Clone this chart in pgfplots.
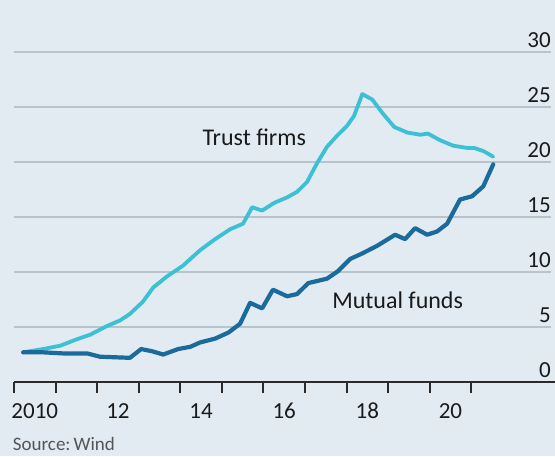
\documentclass[border=0pt]{standalone}
\usepackage{fontspec}
\setmainfont{Carlito}
\usepackage{pgfplots}
\pgfplotsset{compat=1.18}

\definecolor{bg}{HTML}{E1EBF1}
\definecolor{gridc}{HTML}{B8C4CC}
\definecolor{trust}{HTML}{3DBFD4}
\definecolor{mutual}{HTML}{1B6A9C}
\definecolor{axisdark}{HTML}{2A2A2A}
\definecolor{txt}{HTML}{1A1A1A}
\definecolor{srcgray}{HTML}{555555}

% Trust-firm assets, yuan trn
\pgfplotstableread{
x y
2010.22 2.7
2010.70 3.0
2011.11 3.3
2011.52 3.9
2011.83 4.3
2012.24 5.1
2012.55 5.6
2012.79 6.2
2013.10 7.3
2013.35 8.6
2013.68 9.6
2014.07 10.6
2014.48 12.0
2014.84 13.0
2015.20 13.9
2015.51 14.4
2015.73 15.9
2015.97 15.6
2016.26 16.3
2016.57 16.8
2016.81 17.3
2017.05 18.2
2017.29 19.9
2017.53 21.4
2017.77 22.4
2018.01 23.3
2018.18 24.2
2018.38 26.2
2018.62 25.7
2018.88 24.4
2019.15 23.2
2019.46 22.7
2019.77 22.5
2019.96 22.6
2020.25 22.0
2020.57 21.5
2020.90 21.3
2021.07 21.3
2021.30 21.0
2021.53 20.5
}\trustdata

% Mutual-fund assets, yuan trn
\pgfplotstableread{
x y
2010.22 2.7
2010.70 2.7
2011.18 2.6
2011.76 2.6
2012.07 2.3
2012.79 2.2
2013.06 3.0
2013.32 2.8
2013.59 2.5
2013.95 3.0
2014.24 3.2
2014.48 3.6
2014.84 3.95
2015.16 4.5
2015.44 5.3
2015.68 7.2
2015.97 6.7
2016.23 8.4
2016.57 7.8
2016.81 8.0
2017.08 9.0
2017.53 9.4
2017.80 10.1
2018.09 11.2
2018.38 11.7
2018.74 12.4
2019.17 13.4
2019.41 13.0
2019.65 14.0
2019.94 13.4
2020.18 13.7
2020.42 14.4
2020.73 16.6
2021.02 16.9
2021.29 17.8
2021.53 19.8
}\mutualdata

\pgfplotsset{
  base/.style={
    at={(14pt,74pt)}, anchor=south west,
    scale only axis, width=537pt, height=329.7pt,
    xmin=2010, xmax=2022.92, ymin=0, ymax=30,
    axis line style={draw=none},
  },
}

\begin{document}
\begin{tikzpicture}
\path[use as bounding box, fill=bg] (0pt,0pt) rectangle (555pt,456pt);

% grid, y labels and x labels
\begin{axis}[
  base,
  major tick length=0pt,
  ytick={0,5,...,30},
  ymajorgrids,
  grid style={gridc, line width=1.6pt},
  yticklabel pos=right,
  yticklabel style={anchor=base east, inner sep=0pt, yshift=5pt,
    font=\fontsize{23}{27}\selectfont, text=txt},
  xtick={2010.5,2012.5,2014.5,2016.5,2018.5,2020.5},
  xticklabels={2010,12,14,16,18,20},
  xticklabel style={anchor=base, inner sep=0pt, yshift=-36pt,
    font=\fontsize{23}{27}\selectfont, text=txt},
  /pgf/number format/assume math mode=true,
]
\end{axis}

% x-axis line
\draw[axisdark, line width=2pt] (14pt,74pt) -- (555pt,74pt);

% ticks and the two series
\begin{axis}[
  base,
  ytick=\empty,
  xtick={2010,2011,...,2021},
  xticklabels={},
  xtick pos=bottom,
  tick align=outside,
  major tick length=11pt,
  tick style={axisdark, line width=2pt},
  clip=false,
]
\addplot[trust, line width=3.8pt, line join=round, line cap=round] table[x=x,y=y] {\trustdata};
\addplot[mutual, line width=4.2pt, line join=round, line cap=round] table[x=x,y=y] {\mutualdata};
\node[anchor=base, inner sep=0pt, text=txt, font=\fontsize{24}{28}\selectfont]
  at (axis cs:2015.78,21.5) {Trust firms};
\node[anchor=base, inner sep=0pt, text=txt, font=\fontsize{24}{28}\selectfont]
  at (axis cs:2019.23,6.73) {Mutual funds};
\end{axis}

\node[anchor=base west, inner sep=0pt, text=srcgray, font=\fontsize{19}{22}\selectfont]
  at (12.7pt,6pt) {Source:\,Wind};
\end{tikzpicture}
\end{document}
